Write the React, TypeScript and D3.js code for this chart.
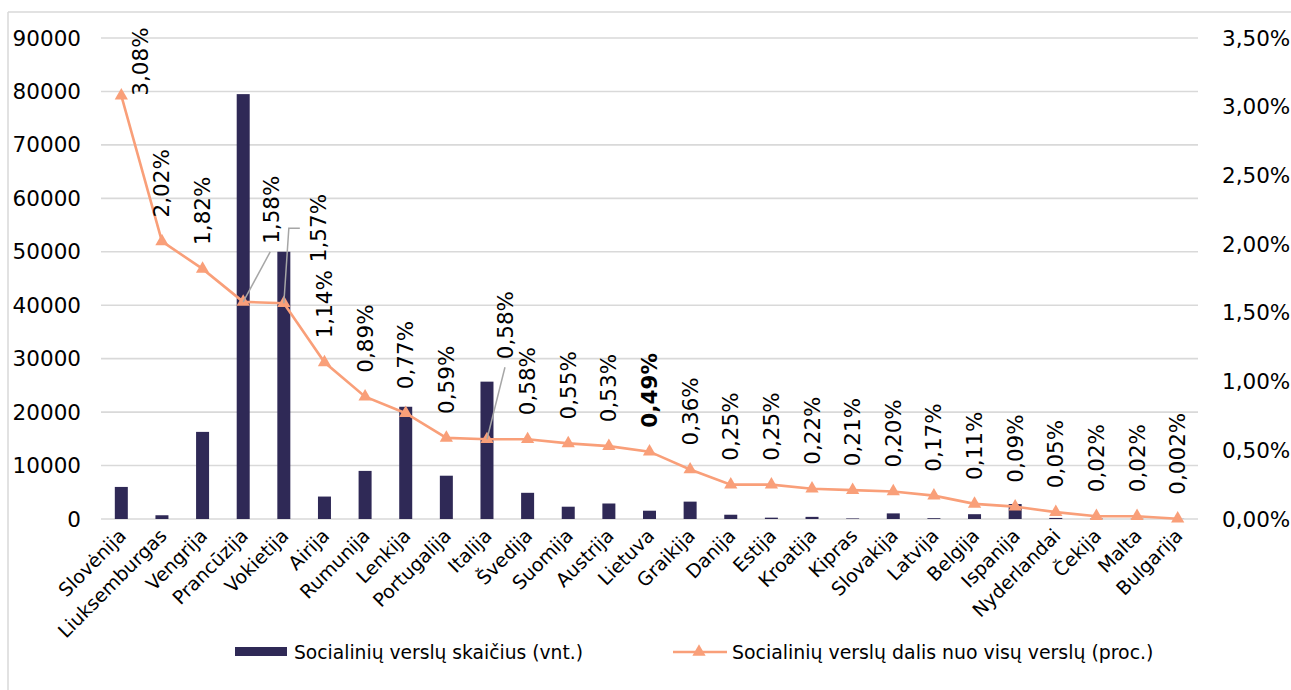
import React from "react";
import * as d3 from "d3";

const categories = [
  "Slovėnija", "Liuksemburgas", "Vengrija", "Prancūzija", "Vokietija", "Airija",
  "Rumunija", "Lenkija", "Portugalija", "Italija", "Švedija", "Suomija", "Austrija",
  "Lietuva", "Graikija", "Danija", "Estija", "Kroatija", "Kipras", "Slovakija",
  "Latvija", "Belgija", "Ispanija", "Nyderlandai", "Čekija", "Malta", "Bulgarija",
];

const businessCount = [
  6000, 700, 16300, 79500, 50000, 4200, 9000, 21000, 8100, 25700, 4900, 2300, 2900,
  1550, 3250, 800, 250, 400, 100, 1050, 150, 900, 2800, 200, 60, 40, 20,
];

const sharePct = [
  3.08, 2.02, 1.82, 1.58, 1.57, 1.14, 0.89, 0.77, 0.59, 0.58, 0.58, 0.55, 0.53,
  0.49, 0.36, 0.25, 0.25, 0.22, 0.21, 0.2, 0.17, 0.11, 0.09, 0.05, 0.02, 0.02, 0.002,
];

const shareLabels = [
  "3,08%", "2,02%", "1,82%", "1,58%", "1,57%", "1,14%", "0,89%", "0,77%", "0,59%",
  "0,58%", "0,58%", "0,55%", "0,53%", "0,49%", "0,36%", "0,25%", "0,25%", "0,22%",
  "0,21%", "0,20%", "0,17%", "0,11%", "0,09%", "0,05%", "0,02%", "0,02%", "0,002%",
];

const leftTicks = [0, 10000, 20000, 30000, 40000, 50000, 60000, 70000, 80000, 90000];
const rightTicks = [0, 0.5, 1, 1.5, 2, 2.5, 3, 3.5];

const barLegend = "Socialinių verslų skaičius (vnt.)";
const lineLegend = "Socialinių verslų dalis nuo visų verslų (proc.)";

const boldLabel = "Lietuva";

// label placement overrides (index -> dx, bottom gap above marker, leader points relative to marker)
const labelOverrides: Record<number, { dx: number; gap: number; leader?: [number, number][] }> = {
  0: { dx: 19, gap: 0 },
  3: { dx: 28, gap: 58, leader: [[27, -50], [0, 0]] },
  4: { dx: 35, gap: 41, leader: [[16, -75], [5, -75], [0, 0]] },
  9: { dx: 19, gap: 80, leader: [[18, -72], [0, 0]] },
};

const FONT = "'DejaVu Sans', Verdana, sans-serif";
const BAR = "#2f2956";
const LINE = "#f99f79";
const GRID = "#d9d9d9";

export default function App() {
  const W = 1291, H = 690;
  const x0 = 101, x1 = 1198, yTop = 38, yBot = 519;

  const x = d3.scaleBand<string>().domain(categories).range([x0, x1]).padding(0);
  const yL = d3.scaleLinear().domain([0, 90000]).range([yBot, yTop]);
  const yR = d3.scaleLinear().domain([0, 3.5]).range([yBot, yTop]);
  const bw = 13;
  const cx = (c: string) => (x(c) as number) + x.bandwidth() / 2;

  const line = d3
    .line<number>()
    .x((_, i) => cx(categories[i]))
    .y((d) => yR(d));

  const tri = d3.symbol().type(d3.symbolTriangle).size(76)() as string;

  return (
    <svg
      width={W}
      height={H}
      style={{ position: "absolute", left: 0, top: 0, background: "#fff" }}
      fontFamily={FONT}
    >
      <rect x={0} y={0} width={W} height={H} fill="#fff" />
      <line x1={8} y1={12} x2={W} y2={12} stroke={GRID} strokeWidth={1.5} />
      <line x1={8} y1={12} x2={8} y2={H} stroke={GRID} strokeWidth={1.5} />

      {leftTicks.map((t) => (
        <g key={"g" + t}>
          <line x1={x0} x2={x1} y1={yL(t)} y2={yL(t)} stroke={GRID} strokeWidth={1.6} />
          <text x={81} y={yL(t)} textAnchor="end" dominantBaseline="central" fontSize={21.5} fill="#000">
            {t}
          </text>
        </g>
      ))}

      {rightTicks.map((t) => (
        <text key={"r" + t} x={1222} y={yR(t)} dominantBaseline="central" fontSize={21.5} fill="#000">
          {t.toFixed(2).replace(".", ",") + "%"}
        </text>
      ))}

      {categories.map((c, i) => (
        <rect key={"b" + c} x={cx(c) - bw / 2} y={yL(businessCount[i])} width={bw}
          height={yBot - yL(businessCount[i])} fill={BAR} />
      ))}

      <path d={line(sharePct) as string} fill="none" stroke={LINE} strokeWidth={2.6} />

      {categories.map((c, i) => (
        <path key={"m" + c} d={tri} transform={`translate(${cx(c)},${yR(sharePct[i])})`} fill={LINE} />
      ))}

      {categories.map((c, i) => {
        const o = labelOverrides[i] || { dx: 0, gap: 24 };
        const mx = cx(c), my = yR(sharePct[i]);
        const lx = mx + o.dx, ly = my - o.gap;
        return (
          <g key={"l" + c}>
            {o.leader && (
              <polyline
                points={o.leader.map(([a, b]) => `${mx + a},${my + b}`).join(" ")}
                fill="none" stroke="#a6a6a6" strokeWidth={1.5}
              />
            )}
            <text
              transform={`translate(${lx},${ly}) rotate(-90)`}
              dominantBaseline="central"
              fontSize={21.5}
              fontWeight={c === boldLabel ? "bold" : "normal"}
              fill="#000"
            >
              {shareLabels[i]}
            </text>
          </g>
        );
      })}

      {categories.map((c) => (
        <text key={"c" + c} transform={`translate(${cx(c) + 6},${537}) rotate(-45)`}
          textAnchor="end" fontSize={19} fill="#000">
          {c}
        </text>
      ))}

      <rect x={235} y={647} width={52} height={9} fill={BAR} />
      <text x={294} y={652} dominantBaseline="central" fontSize={18.7} fill="#000">{barLegend}</text>

      <line x1={673} x2={727} y1={652} y2={652} stroke={LINE} strokeWidth={2.6} />
      <path d={tri} transform="translate(699,652)" fill={LINE} />
      <text x={732} y={652} dominantBaseline="central" fontSize={18.9} fill="#000">{lineLegend}</text>
    </svg>
  );
}
